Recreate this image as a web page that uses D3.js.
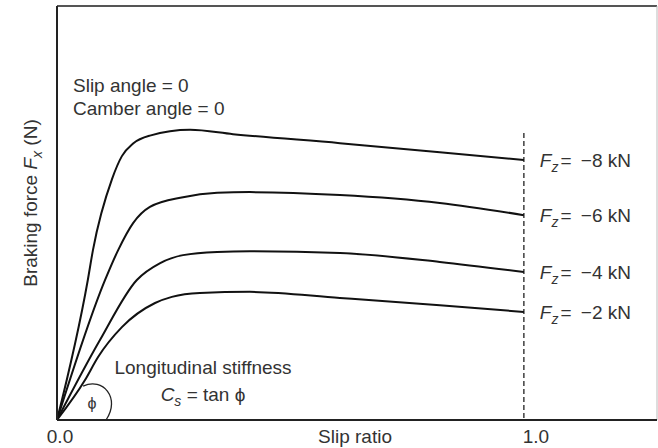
<!DOCTYPE html>
<html>
<head>
<meta charset="utf-8">
<script src="https://cdn.jsdelivr.net/npm/d3@7"></script>
<style>
  body { margin: 0; background: #fff; }
  text { font-family: "Liberation Sans", Arial, sans-serif; fill: #333; }
</style>
</head>
<body>
<script>
"use strict";

// chart size
let w = 658;
let h = 448;

// curves: slip ratio vs braking force (N)
const loads = ["\u22128 kN", "\u22126 kN", "\u22124 kN", "\u22122 kN"];

const slip8 = [0, 0.066, 0.077, 0.118, 0.139, 0.163, 0.199, 0.285, 0.377, 0.606, 0.820, 1.0];
const force8 = [0, 3890, 4720, 6700, 7330, 7680, 7900, 8060, 7940, 7690, 7440, 7220];

const slip6 = [0, 0.103, 0.131, 0.163, 0.199, 0.270, 0.343, 0.413, 0.606, 0.820, 1.0];
const force6 = [0, 3890, 4720, 5470, 5920, 6190, 6310, 6330, 6250, 6030, 5690];

const slip4 = [0, 0.092, 0.171, 0.221, 0.270, 0.343, 0.413, 0.606, 0.820, 1.0];
const force4 = [0, 2220, 3890, 4360, 4580, 4670, 4690, 4640, 4390, 4110];

const slip2 = [0, 0.060, 0.088, 0.139, 0.210, 0.246, 0.306, 0.413, 0.606, 0.820, 1.0];
const force2 = [0, 1110, 1750, 2580, 3250, 3420, 3530, 3560, 3390, 3190, 3000];

const xTicks = [0, 1];
const xTickLabels = ["0.0", "1.0"];

let series = [
    {load: loads[0], xs: slip8, ys: force8},
    {load: loads[1], xs: slip6, ys: force6},
    {load: loads[2], xs: slip4, ys: force4},
    {load: loads[3], xs: slip2, ys: force2}
];

let svg = d3.select("body").append("svg")
    .attr("width", w)
    .attr("height", h);

let x = d3.scaleLinear().domain([0, 1.283]).range([57, 656]);
let y = d3.scaleLinear().domain([0, 11500]).range([420, 6]);

// frame: light top/right, heavy left/bottom
svg.append("line")
    .attr("x1", x(0)).attr("x2", 657)
    .attr("y1", y(11500)).attr("y2", y(11500))
    .attr("stroke", "#555").attr("stroke-width", 2);
svg.append("line")
    .attr("x1", 657).attr("x2", 657)
    .attr("y1", y(11500)).attr("y2", y(0))
    .attr("stroke", "#bbb").attr("stroke-width", 1);

// dashed line at slip ratio 1
svg.append("line")
    .attr("x1", x(1)).attr("x2", x(1))
    .attr("y1", 133).attr("y2", y(0))
    .attr("stroke", "#222")
    .attr("stroke-width", 1.3)
    .attr("stroke-dasharray", "5,3");

let line = d3.line()
    .x(d => x(d[0]))
    .y(d => y(d[1]))
    .curve(d3.curveMonotoneX);

svg.append("g")
    .selectAll("path")
    .data(series)
    .enter().append("path")
    .attr("d", s => line(s.xs.map((v, i) => [v, s.ys[i]])))
    .attr("fill", "none")
    .attr("stroke", "#111")
    .attr("stroke-width", 2);

// load labels at the end of each curve
let lab = svg.append("g")
    .selectAll("text")
    .data(series)
    .enter().append("text")
    .attr("x", x(1) + 16)
    .attr("y", s => y(s.ys[s.ys.length - 1]) + 7)
    .attr("font-size", 19);
lab.append("tspan").attr("font-style", "italic").text("F");
lab.append("tspan").attr("font-style", "italic").attr("font-size", 14)
    .attr("dy", 5).text("z");
lab.append("tspan").attr("dy", -5).attr("dx", 2).text("= ");
lab.append("tspan").attr("dx", 4).text(s => s.load);

// axes (left and bottom)
svg.append("line")
    .attr("x1", x(0)).attr("x2", x(0))
    .attr("y1", y(11500)).attr("y2", y(0))
    .attr("stroke", "#222").attr("stroke-width", 2);
svg.append("line")
    .attr("x1", x(0)).attr("x2", 657)
    .attr("y1", y(0)).attr("y2", y(0))
    .attr("stroke", "#222").attr("stroke-width", 2);

svg.append("g")
    .selectAll("text")
    .data(xTicks)
    .enter().append("text")
    .attr("x", (d, i) => x(d) + (i === 0 ? 3 : 12))
    .attr("y", 443)
    .attr("text-anchor", "middle")
    .attr("font-size", 19)
    .text((d, i) => xTickLabels[i]);

svg.append("text")
    .attr("x", 355).attr("y", 443)
    .attr("text-anchor", "middle")
    .attr("font-size", 19)
    .text("Slip ratio");

let yl = svg.append("text")
    .attr("transform", "translate(37,203) rotate(-90)")
    .attr("text-anchor", "middle")
    .attr("font-size", 19);
yl.append("tspan").text("Braking force ");
yl.append("tspan").attr("font-style", "italic").text("F");
yl.append("tspan").attr("font-style", "italic").attr("font-size", 14)
    .attr("dy", 5).text("x");
yl.append("tspan").attr("dy", -5).text(" (N)");

// condition notes
svg.append("text").attr("x", 73).attr("y", 92).attr("font-size", 19).text("Slip angle = 0");
svg.append("text").attr("x", 73).attr("y", 115).attr("font-size", 19).text("Camber angle = 0");

// stiffness annotation
svg.append("text").attr("x", 203).attr("y", 374)
    .attr("text-anchor", "middle").attr("font-size", 19)
    .text("Longitudinal stiffness");
let cs = svg.append("text").attr("x", 203).attr("y", 401)
    .attr("text-anchor", "middle").attr("font-size", 19);
cs.append("tspan").attr("font-style", "italic").text("C");
cs.append("tspan").attr("font-style", "italic").attr("font-size", 14)
    .attr("dy", 5).text("s");
cs.append("tspan").attr("dy", -5).text(" = tan \u03D5");

// angle arc from the initial slope down to the axis
let arcPts = [[0.056, 940], [0.098, 1200], [0.137, 610], [0.105, 0]];
svg.append("path")
    .attr("d", "M" + x(arcPts[0][0]) + "," + y(arcPts[0][1]) +
        "C" + arcPts.slice(1).map(p => x(p[0]) + "," + y(p[1])).join(" "))
    .attr("fill", "none")
    .attr("stroke", "#222")
    .attr("stroke-width", 1.3);
svg.append("text").attr("x", 92).attr("y", 409)
    .attr("text-anchor", "middle").attr("font-size", 16)
    .text("\u03D5");
</script>
</body>
</html>
